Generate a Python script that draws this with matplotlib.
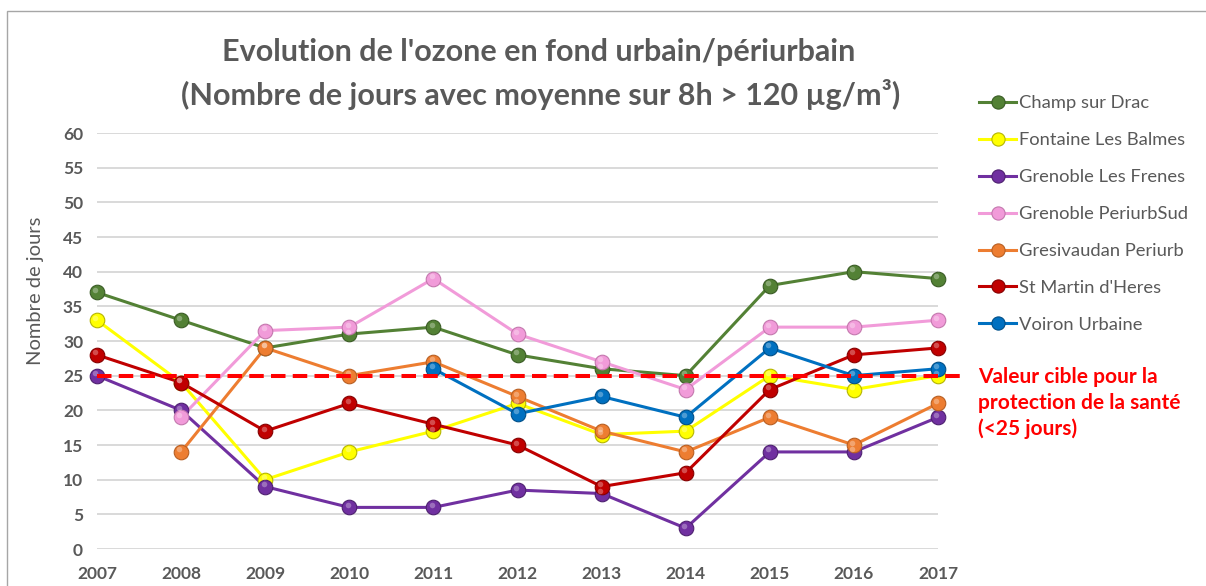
import matplotlib

matplotlib.use("Agg")
import matplotlib.pyplot as plt
import numpy as np
from matplotlib.lines import Line2D
from matplotlib.patches import Rectangle
from matplotlib.transforms import offset_copy

plt.rcParams["font.family"] = ["Lato", "DejaVu Sans"]

years = [2007, 2008, 2009, 2010, 2011, 2012, 2013, 2014, 2015, 2016, 2017]

champ_sur_drac = [37, 33, 29, 31, 32, 28, 26, 25, 38, 40, 39]
fontaine_les_balmes = [33, 24, 10, 14, 17, 21, 16.5, 17, 25, 23, 25]
grenoble_les_frenes = [25, 20, 9, 6, 6, 8.5, 8, 3, 14, 14, 19]
grenoble_periurbsud = [np.nan, 19, 31.5, 32, 39, 31, 27, 23, 32, 32, 33]
gresivaudan_periurb = [np.nan, 14, 29, 25, 27, 22, 17, 14, 19, 15, 21]
st_martin_dheres = [28, 24, 17, 21, 18, 15, 9, 11, 23, 28, 29]
voiron_urbaine = [np.nan, np.nan, np.nan, np.nan, 26, 19.5, 22, 19, 29, 25, 26]

station_names = [
    "Champ sur Drac",
    "Fontaine Les Balmes",
    "Grenoble Les Frenes",
    "Grenoble PeriurbSud",
    "Gresivaudan Periurb",
    "St Martin d'Heres",
    "Voiron Urbaine",
]
station_values = [
    champ_sur_drac,
    fontaine_les_balmes,
    grenoble_les_frenes,
    grenoble_periurbsud,
    gresivaudan_periurb,
    st_martin_dheres,
    voiron_urbaine,
]
station_colors = ["#538135", "#FFFF00", "#7030A0", "#F19BD9", "#ED7D31", "#C00000", "#0070C0"]
station_edges = ["#3A5C25", "#B5B500", "#4E2170", "#C478AE", "#B85F22", "#850000", "#004F88"]

target_value = 25
target_label = "Valeur cible pour la\nprotection de la santé\n(<25 jours)"

text_grey = "#595959"

fig = plt.figure(figsize=(12.06, 5.86), dpi=100)
ax = fig.add_axes([97 / 1206, 1 - 549 / 586, (938 - 97) / 1206, (549 - 133) / 586])

# chart frame, cut off on the right and bottom
fig.patches.append(Rectangle((7 / 1206, -0.1), 1.2, 1 - 11 / 586 + 0.1,
                             transform=fig.transFigure, fill=False,
                             edgecolor="#A6A6A6", linewidth=1.0))

for vals, color, edge in zip(station_values, station_colors, station_edges):
    ax.plot(years, vals, color=color, linewidth=2.2, zorder=3, clip_on=False)
    ax.plot(years, vals, linestyle="none", marker="o", markersize=10.5,
            markerfacecolor=color, markeredgecolor=edge, markeredgewidth=0.8,
            zorder=4, clip_on=False)
    # small highlight so the markers read as little spheres
    hl = offset_copy(ax.transData, fig=fig, x=-1.2, y=1.8, units="points")
    ax.plot(years, vals, linestyle="none", marker="o", markersize=4,
            markerfacecolor="white", markeredgewidth=0, alpha=0.3,
            transform=hl, zorder=5, clip_on=False)

ax.axhline(target_value, xmin=0, xmax=1.03, color="#FF0000", linewidth=2.9,
           dashes=(3.6, 1.8), zorder=6, clip_on=False)
fig.text(978 / 1206, 1 - 403 / 586, target_label, color="#FF0000", fontsize=15,
         fontweight="bold", va="center", ha="left", linespacing=1.33)

ax.set_xlim(2007, 2017)
ax.set_ylim(0, 60)
ax.set_yticks(np.arange(0, 61, 5))
ax.set_xticks(years)
ax.grid(axis="y", color="#D9D9D9", linewidth=1.4)
ax.set_axisbelow(True)
for side in ax.spines.values():
    side.set_visible(False)
ax.tick_params(length=0, labelsize=12.5, labelcolor=text_grey, pad=10)
for lbl in ax.get_xticklabels() + ax.get_yticklabels():
    lbl.set_fontweight("bold")
ax.tick_params(axis="x", pad=12)
ax.set_ylabel("Nombre de jours", fontsize=14.5, color=text_grey)
ax.yaxis.set_label_coords(-0.063, (549 - 291) / 416)

fig.text(539 / 1206, 1 - 52 / 586, "Evolution de l'ozone en fond urbain/périurbain",
         ha="center", va="center", fontsize=22, fontweight="bold", color=text_grey)
fig.text(541 / 1206, 1 - 95 / 586, "(Nombre de jours avec moyenne sur 8h > 120 µg/m³)",
         ha="center", va="center", fontsize=22, fontweight="bold", color=text_grey)

handles = [
    Line2D([], [], color=c, linewidth=2.2, marker="o", markersize=9.5,
           markerfacecolor=c, markeredgecolor=e, markeredgewidth=0.8)
    for c, e in zip(station_colors, station_edges)
]
fig.legend(handles, station_names, loc="upper left",
           bbox_to_anchor=(972 / 1206, 1 - 88 / 586), frameon=False,
           fontsize=13.2, labelcolor=text_grey, handlelength=2.0,
           handletextpad=0.15, labelspacing=1.14, borderaxespad=0)

fig.savefig("out.png", dpi=100)
